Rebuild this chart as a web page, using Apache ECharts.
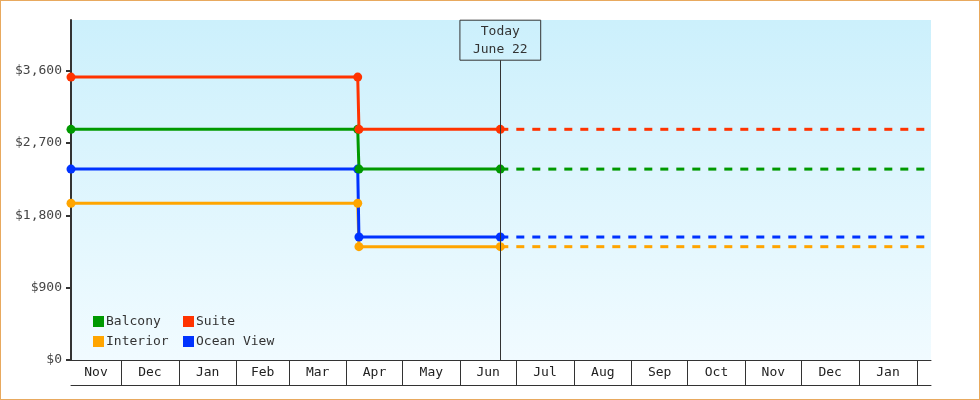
<!DOCTYPE html>
<html lang="en">

<head>
    <meta charset="UTF-8">
    <title>Cabin prices</title>
    <script src="https://cdn.jsdelivr.net/npm/echarts@6/dist/echarts.min.js"></script>
    <style>
        * {
            margin: 0;
            padding: 0;
        }

        body {
            background: #fff;
        }

        #chart {
            width: 978px;
            height: 398px;
            border: 1px solid #e8a95e;
        }
    </style>
</head>

<body>
    <div id="chart"></div>

    <script type="text/javascript">
        // price history up to today, then flat forecast
        var priceDates = ['2024-11-04 04:00', '2025-04-07 00:00', '2025-04-07 16:00', '2025-06-22 12:00'];
        var forecastDates = ['2025-06-22 12:00', '2026-02-08 14:00'];
        var balcony = [2870, 2870, 2375, 2375];
        var suite = [3520, 3520, 2870, 2870];
        var oceanView = [2375, 2375, 1530, 1530];
        var interior = [1950, 1950, 1410, 1410];

        // x axis: month boundaries and label positions
        var monthStarts = ['2024-12-01', '2025-01-01', '2025-02-01', '2025-03-01', '2025-04-01', '2025-05-01',
            '2025-06-01', '2025-07-01', '2025-08-01', '2025-09-01', '2025-10-01', '2025-11-01', '2025-12-01',
            '2026-01-01', '2026-02-01'];
        var monthMids = ['2024-11-17 14:00', '2024-12-16 12:00', '2025-01-16 12:00', '2025-02-15', '2025-03-16 12:00',
            '2025-04-16', '2025-05-16 12:00', '2025-06-16', '2025-07-16 12:00', '2025-08-16 12:00', '2025-09-16',
            '2025-10-16 12:00', '2025-11-16', '2025-12-16 12:00', '2026-01-16 12:00'];
        var monthLabels = ['Nov', 'Dec', 'Jan', 'Feb', 'Mar', 'Apr', 'May', 'Jun', 'Jul', 'Aug', 'Sep', 'Oct', 'Nov', 'Dec', 'Jan'];
        var yTicks = [0, 900, 1800, 2700, 3600];

        var todayText = 'Today\nJune 22';
        var FONT = 'DejaVu Sans Mono';

        function toTime(s) {
            return echarts.time.parse(s).getTime();
        }

        function pairs(xs, ys) {
            return xs.map(function (x, i) { return [toTime(x), ys[i]]; });
        }

        function last(a) { return a[a.length - 1]; }

        var midTimes = monthMids.map(toTime);
        var xMin = toTime(priceDates[0]);
        var xMax = toTime(last(forecastDates));
        var todayX = toTime(last(priceDates));

        var rooms = [
            { name: 'Interior', color: '#ffa500', values: interior },
            { name: 'Ocean View', color: '#0033ff', values: oceanView },
            { name: 'Balcony', color: '#009900', values: balcony },
            { name: 'Suite', color: '#ff3300', values: suite }
        ];

        var series = [];
        rooms.forEach(function (r) {
            var v = last(r.values);
            // dashed forecast drawn first so the today marker sits on top
            series.push({
                name: r.name,
                type: 'line',
                data: pairs(forecastDates, [v, v]),
                showSymbol: false,
                symbol: 'none',
                itemStyle: { color: r.color },
                lineStyle: { color: r.color, width: 3, type: [8, 8], dashOffset: 0 },
                animation: false
            });
        });
        rooms.forEach(function (r) {
            series.push({
                name: r.name,
                type: 'line',
                data: pairs(priceDates, r.values),
                symbol: 'circle',
                symbolSize: 9,
                itemStyle: { color: r.color },
                lineStyle: { color: r.color, width: 3 },
                animation: false
            });
        });

        // the "today" marker line with its boxed label
        series.push({
            type: 'line',
            data: [],
            animation: false,
            markLine: {
                silent: true,
                symbol: 'none',
                animation: false,
                lineStyle: { color: '#333', width: 1, type: 'solid' },
                data: [[
                    { coord: [todayX, 0] },
                    {
                        coord: [todayX, 3730],
                        label: {
                            show: true,
                            position: 'end',
                            distance: 0,
                            formatter: todayText,
                            fontFamily: FONT,
                            fontSize: 13,
                            lineHeight: 18,
                            color: '#333',
                            borderColor: '#333',
                            borderWidth: 1,
                            padding: [2, 13, 2, 13]
                        }
                    }
                ]]
            }
        });

        var chart = echarts.init(document.getElementById('chart'), null, { renderer: 'canvas' });

        var legendCommon = {
            orient: 'vertical',
            top: 309,
            icon: 'rect',
            itemWidth: 11,
            itemHeight: 11,
            itemGap: 7,
            selectedMode: false,
            itemStyle: { borderWidth: 0 },
            textStyle: { fontFamily: FONT, fontSize: 13, color: '#333', padding: [0, 0, 0, -3] }
        };

        chart.setOption({
            textStyle: { fontFamily: FONT },
            grid: {
                left: 70,
                right: 48,
                top: 19,
                bottom: 39,
                show: true,
                borderWidth: 0,
                backgroundColor: new echarts.graphic.LinearGradient(0, 0, 0, 1, [
                    { offset: 0, color: '#ccf0fc' },
                    { offset: 1, color: '#f1fbff' }
                ])
            },
            legend: [
                Object.assign({ left: 87, data: ['Balcony', 'Interior'] }, legendCommon),
                Object.assign({ left: 177, data: ['Suite', 'Ocean View'] }, legendCommon)
            ],
            xAxis: [{
                type: 'value',
                min: xMin,
                max: xMax,
                axisLine: { lineStyle: { color: '#333', width: 1 } },
                axisTick: {
                    show: true,
                    length: 25,
                    customValues: monthStarts.map(toTime),
                    lineStyle: { color: '#333', width: 1 }
                },
                axisLabel: {
                    customValues: midTimes,
                    formatter: function (v) {
                        var i = midTimes.indexOf(v);
                        return i >= 0 ? monthLabels[i] : '';
                    },
                    margin: 6,
                    fontFamily: FONT,
                    fontSize: 13,
                    color: '#222'
                },
                splitLine: { show: false }
            }, {
                type: 'value',
                position: 'bottom',
                offset: 25,
                min: xMin,
                max: xMax,
                axisLine: { lineStyle: { color: '#333', width: 1 } },
                axisTick: { show: false },
                axisLabel: { show: false },
                splitLine: { show: false }
            }],
            yAxis: {
                type: 'value',
                min: 0,
                max: 4230,
                axisLine: { show: true, lineStyle: { color: '#333', width: 2 } },
                axisTick: { show: true, length: 5, customValues: yTicks, lineStyle: { color: '#333', width: 2 } },
                axisLabel: {
                    customValues: yTicks,
                    formatter: function (v) { return '$' + v.toLocaleString('en-US'); },
                    margin: 9,
                    fontFamily: FONT,
                    fontSize: 13,
                    color: '#444'
                },
                splitLine: { show: false }
            },
            series: series
        });
    </script>
</body>

</html>
